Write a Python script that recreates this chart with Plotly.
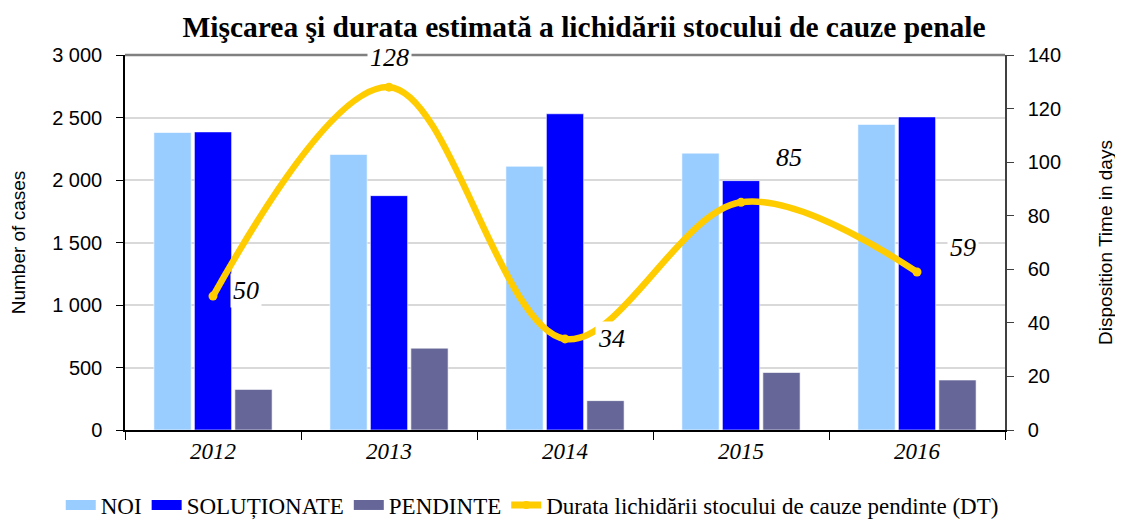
import plotly.graph_objects as go

years = ["2012", "2013", "2014", "2015", "2016"]
noi = [2380, 2205, 2110, 2215, 2445]
solutionate = [2385, 1875, 2530, 1995, 2505]
pendinte = [325, 655, 235, 460, 400]
durata = [50, 128, 34, 85, 59]

title = "Mişcarea şi durata estimată a lichidării stocului de cauze penale"
names = ["NOI", "SOLUȚIONATE", "PENDINTE", "Durata lichidării stocului de cauze pendinte (DT)"]
y_ticks = [0, 500, 1000, 1500, 2000, 2500, 3000]
y_ticktext = ["0", "500", "1 000", "1 500", "2 000", "2 500", "3 000"]
y2_ticks = [0, 20, 40, 60, 80, 100, 120, 140]

# label pixel offsets (styling)
label_dx = [33, 0, 46, 48, 46]
label_dy = [6, 30, 0, 45, 24]

SERIF = "Liberation Serif"
SANS = "Liberation Sans"
colors = ["#99CCFF", "#0000FF", "#666699", "#FFCC00"]

fig = go.Figure()
for vals, nm, c in zip([noi, solutionate, pendinte], names[:3], colors[:3]):
    fig.add_trace(go.Bar(x=years, y=vals, name=nm, showlegend=False,
                         marker=dict(color=c, line=dict(color="white", width=0.6))))
fig.add_trace(go.Scatter(x=years, y=durata, name=names[3], yaxis="y2", mode="lines+markers",
                         showlegend=False,
                         line=dict(color=colors[3], width=6.5, shape="spline", smoothing=1.0),
                         marker=dict(color=colors[3], size=9)))
# legend entries
for nm, c in zip(names[:3], colors[:3]):
    fig.add_trace(go.Scatter(x=[None], y=[None], name=nm, mode="lines",
                             line=dict(color=c, width=12)))
fig.add_trace(go.Scatter(x=[None], y=[None], name=names[3], mode="lines+markers", yaxis="y2",
                         line=dict(color=colors[3], width=7), marker=dict(color=colors[3], size=8)))

for i, v in enumerate(durata):
    fig.add_annotation(x=i, y=v, xref="x", yref="y2", text=str(v), showarrow=False,
                       xshift=label_dx[i], yshift=label_dy[i], bgcolor="white", borderpad=2,
                       font=dict(family=SERIF, size=26, color="black", style="italic"))

# page has an 8px body margin, so the figure is 8px smaller than the window
fig.update_layout(
    width=1115, height=512,
    margin=dict(l=117, r=118, t=47, b=90, autoexpand=False),
    paper_bgcolor="white", plot_bgcolor="white",
    title=dict(text="<b>" + title + "</b>", x=0.5166, xanchor="center", y=0.964, yanchor="middle",
               font=dict(family=SERIF, size=29.5, color="black")),
    barmode="group", bargap=0.31, bargroupgap=0.08,
    showlegend=True,
    legend=dict(orientation="h", x=-0.073, xanchor="left", y=-0.2, yanchor="middle",
                font=dict(family=SERIF, size=23, color="black"), traceorder="normal",
                itemwidth=30, tracegroupgap=0, bgcolor="rgba(0,0,0,0)"),
    xaxis=dict(type="category", range=[-0.5, 4.5], tickson="boundaries", ticks="outside", ticklen=8,
               tickcolor="black", showline=True, linecolor="black", linewidth=1.5, showgrid=False,
               tickfont=dict(family=SERIF, size=23, color="black", style="italic")),
    yaxis=dict(range=[0, 3000], tickvals=y_ticks, ticktext=y_ticktext, ticks="outside", ticklen=7,
               tickcolor="black", showline=True, linecolor="black", linewidth=1.5,
               showgrid=True, gridcolor="#D9D9D9", gridwidth=1.5, zeroline=False,
               ticklabelstandoff=10,
               tickfont=dict(family=SANS, size=20, color="black"),
               title=dict(text="Number of cases", font=dict(family=SANS, size=19, color="black"), standoff=24)),
    yaxis2=dict(range=[0, 140], tickvals=y2_ticks, overlaying="y", side="right", ticks="outside", ticklen=7,
                tickcolor="#404040", showline=True, linecolor="#404040", linewidth=1.5, showgrid=False,
                zeroline=False, ticklabelstandoff=10, tickfont=dict(family=SANS, size=20, color="black"),
                title=dict(text="Disposition Time in days", font=dict(family=SANS, size=19, color="black"), standoff=39)),
)

fig.add_shape(type="line", xref="paper", yref="paper", x0=0, x1=1, y0=1, y1=1,
              line=dict(color="#808080", width=2.5), layer="below")

fig.write_html("out.html")
